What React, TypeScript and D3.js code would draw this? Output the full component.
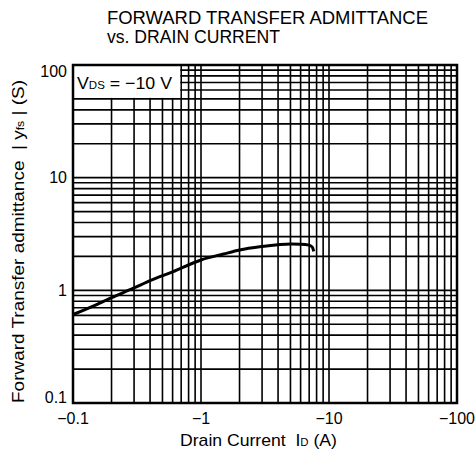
import * as d3 from "d3";

// forward transfer admittance |yfs| vs drain current (magnitude, A)
const drainCurrent = [0.1, 0.15, 0.2, 0.3, 0.4, 0.6, 1, 1.5, 2, 3, 4, 5, 6, 7, 7.4, 7.6];
const admittance = [0.61, 0.74, 0.86, 1.05, 1.22, 1.46, 1.86, 2.1, 2.28, 2.45, 2.54, 2.58, 2.57, 2.52, 2.42, 2.22];

const xTicks = [0.1, 1, 10, 100];
const xTickLabels = ["\u22120.1", "\u22121", "\u221210", "\u2212100"];
const yTicks = [0.1, 1, 10, 100];
const yTickLabels = ["0.1", "1", "10", "100"];

const W = 475;
const H = 464;
const margin = { top: 65, right: 18, bottom: 61, left: 73 };
const FONT = "'Liberation Sans', Arial, Helvetica, sans-serif";

const App = () => {
  const x = d3.scaleLog().domain([0.1, 100]).range([margin.left, W - margin.right]);
  const y = d3.scaleLog().domain([0.1, 100]).range([H - margin.bottom, margin.top]);

  // 1..9 per decade
  const gridVals: number[] = [];
  [0.1, 1, 10].forEach((d) => {
    for (let k = 1; k < 10; k++) gridVals.push(+(k * d).toPrecision(3));
  });
  gridVals.push(100);

  const line = d3
    .line<number>()
    .x((_, i) => x(drainCurrent[i]))
    .y((v) => y(v))
    .curve(d3.curveMonotoneX);

  const [x0, x1] = x.range();
  const [y0, y1] = y.range();
  const pre = { whiteSpace: "pre" as const };

  return (
    <div style={{ position: "absolute", left: 0, top: 0 }}>
      <svg width={W} height={H} style={{ display: "block", background: "#fff" }} fontFamily={FONT}>
        <text x={107} y={24} fontSize={18} fill="#000" textLength={321} lengthAdjust="spacingAndGlyphs">
          FORWARD TRANSFER ADMITTANCE
        </text>
        <text x={107} y={43} fontSize={18} fill="#000" textLength={173} lengthAdjust="spacingAndGlyphs">
          vs. DRAIN CURRENT
        </text>

        <g stroke="#000" strokeWidth={1.6}>
          {gridVals.map((v) => (
            <line key={"vx" + v} x1={x(v)} x2={x(v)} y1={y1} y2={y0} />
          ))}
          {gridVals.map((v) => (
            <line key={"hy" + v} x1={x0} x2={x1} y1={y(v)} y2={y(v)} />
          ))}
        </g>

        {/* legend box blanks the grid */}
        <rect x={x0 + 1} y={y1 + 1} width={x(0.7) - x0 - 2} height={y(50) - y1 - 2} fill="#fff" />
        <text x={77} y={89} fontSize={17} fill="#000" textLength={95} lengthAdjust="spacingAndGlyphs" style={pre}>
          V<tspan fontSize={11}>DS</tspan> = {"\u2212"}10 V
        </text>

        <path d={line(admittance) ?? ""} fill="none" stroke="#000" strokeWidth={3} strokeLinejoin="round" />

        <rect x={x0} y={y1} width={x1 - x0} height={y0 - y1} fill="none" stroke="#000" strokeWidth={2.5} />

        {yTicks.map((v, i) => (
          <text
            key={"yl" + v}
            x={67}
            y={Math.min(Math.max(y(v), y1 + 6), y0 - 6)}
            dy="0.35em"
            textAnchor="end"
            fontSize={16}
            fill="#000"
          >
            {yTickLabels[i]}
          </text>
        ))}
        {xTicks.map((v, i) => (
          <text key={"xl" + v} x={x(v)} y={424} textAnchor="middle" fontSize={16} fill="#000">
            {xTickLabels[i]}
          </text>
        ))}

        <text x={180} y={446} fontSize={17} fill="#000" textLength={157} lengthAdjust="spacingAndGlyphs" style={pre}>
          Drain Current  I<tspan fontSize={11}>D</tspan> (A)
        </text>
        <text
          transform={`translate(24,403) rotate(-90)`}
          fontSize={17}
          fill="#000"
          textLength={323}
          lengthAdjust="spacingAndGlyphs"
          style={pre}
        >
          Forward Transfer admittance  | y<tspan fontSize={11}>fs</tspan> | (S)
        </text>
      </svg>
    </div>
  );
};

export default App;
